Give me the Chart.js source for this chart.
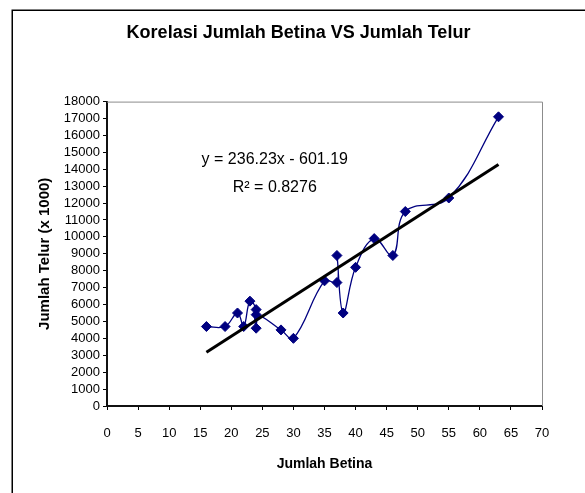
<!DOCTYPE html>
<html><head><meta charset="utf-8">
<script src="https://cdn.jsdelivr.net/npm/chart.js@4"></script>
<style>html,body{margin:0;padding:0;background:#fff;overflow:hidden}#wrap{width:585px;height:493px;position:relative}</style>
</head><body><div id="wrap"><canvas id="c" width="585" height="493"></canvas></div>
<script>
// Data
const betina = [16, 19, 21, 22, 23, 24, 24, 24, 28, 30, 35, 37, 37, 38, 40, 43, 46, 48, 55, 63];
const telur  = [4700, 4700, 5500, 4700, 6200, 5700, 4600, 5400, 4500, 4000, 7400, 7300, 8900, 5500, 8200, 9900, 8900, 11500, 12300, 17100];
// Linear trendline as printed on the chart
const trendX = [16, 63];
const trendCoef = [236.23, -601.19]; // slope, intercept
const equationText = ['y = 236.23x - 601.19', 'R² = 0.8276'];
const equationAnchor = [27, 14550, 12900]; // x value, y of line 1, y of line 2
const chartTitle = 'Korelasi Jumlah Betina VS Jumlah Telur';
const xTitle = 'Jumlah Betina';
const yTitle = 'Jumlah Telur (x 1000)';

const FONT = '"Liberation Sans", Arial, sans-serif';

const points = betina.map((x, i) => ({x: x, y: telur[i]}));
const trendPoints = trendX.map(x => ({x: x, y: trendCoef[0] * x + trendCoef[1]}));

const decor = {
  id: 'decor',
  beforeDraw(chart) {
    const ctx = chart.ctx;
    ctx.save();
    ctx.fillStyle = '#fff';
    ctx.fillRect(0, 0, chart.width, chart.height);
    ctx.strokeStyle = '#000';
    ctx.lineWidth = 1.5;
    ctx.strokeRect(12.25, 10.25, chart.width + 20, chart.height + 20);
    ctx.restore();
  },
  afterDraw(chart) {
    const ctx = chart.ctx;
    const a = chart.chartArea;
    ctx.save();
    ctx.strokeStyle = '#8c8c8c';
    ctx.lineWidth = 1;
    ctx.beginPath();
    ctx.moveTo(a.left, a.top + 0.5);
    ctx.lineTo(a.right + 0.5, a.top + 0.5);
    ctx.lineTo(a.right + 0.5, a.bottom);
    ctx.stroke();
    const xs = chart.scales.x, ys = chart.scales.y;
    ctx.fillStyle = '#000';
    ctx.font = '16px ' + FONT;
    ctx.textAlign = 'center';
    ctx.textBaseline = 'middle';
    const cx = xs.getPixelForValue(equationAnchor[0]);
    ctx.fillText(equationText[0], cx, ys.getPixelForValue(equationAnchor[1]));
    ctx.fillText(equationText[1], cx, ys.getPixelForValue(equationAnchor[2]));
    ctx.restore();
  }
};

new Chart(document.getElementById('c'), {
  type: 'scatter',
  data: {
    datasets: [
      {
        label: 'trend',
        data: trendPoints,
        showLine: true,
        borderColor: '#000',
        borderWidth: 3,
        pointRadius: 0,
        tension: 0,
        order: 0
      },
      {
        label: 'data',
        data: points,
        showLine: true,
        borderColor: '#000080',
        borderWidth: 1.3,
        backgroundColor: '#000080',
        pointStyle: 'rectRot',
        pointRadius: 5,
        pointBorderWidth: 1,
        pointBorderColor: '#000080',
        pointBackgroundColor: '#000080',
        tension: 0.4,
        order: 1
      }
    ]
  },
  options: {
    responsive: false,
    devicePixelRatio: 1,
    animation: false,
    layout: {padding: {left: 12, right: 0, top: 0, bottom: 0}},
    plugins: {
      legend: {display: false},
      tooltip: {enabled: false},
      title: {
        display: true,
        text: chartTitle,
        color: '#000',
        font: {family: FONT, size: 18, weight: 'bold'},
        padding: {top: 22, bottom: 58}
      }
    },
    scales: {
      x: {
        type: 'linear',
        min: 0, max: 70,
        ticks: {stepSize: 5, color: '#000', font: {family: FONT, size: 13}, padding: 16, maxRotation: 0, autoSkip: false},
        grid: {drawOnChartArea: false, drawTicks: true, tickLength: 4, color: '#000'},
        border: {display: true, color: '#111', width: 2},
        title: {display: true, text: xTitle, color: '#000', font: {family: FONT, size: 14, weight: 'bold'}, padding: {top: 0, bottom: 20}},
        afterFit(s) { s.height = 87; }
      },
      y: {
        type: 'linear',
        min: 0, max: 18000,
        ticks: {stepSize: 1000, color: '#000', font: {family: FONT, size: 13}, padding: 3, autoSkip: false,
          callback: v => String(v)},
        grid: {drawOnChartArea: false, drawTicks: true, tickLength: 4, color: '#000'},
        border: {display: true, color: '#111', width: 2},
        title: {display: true, text: yTitle, color: '#000', font: {family: FONT, size: 15, weight: 'bold'}, padding: {top: 24, bottom: 0}},
        afterFit(s) { s.width = 95; }
      },
      yRight: {
        type: 'linear',
        position: 'right',
        display: true,
        min: 0, max: 18000,
        ticks: {display: false},
        grid: {display: false},
        border: {display: false},
        afterFit(s) { s.width = 43; }
      }
    }
  },
  plugins: [decor]
});
</script>
</body></html>
